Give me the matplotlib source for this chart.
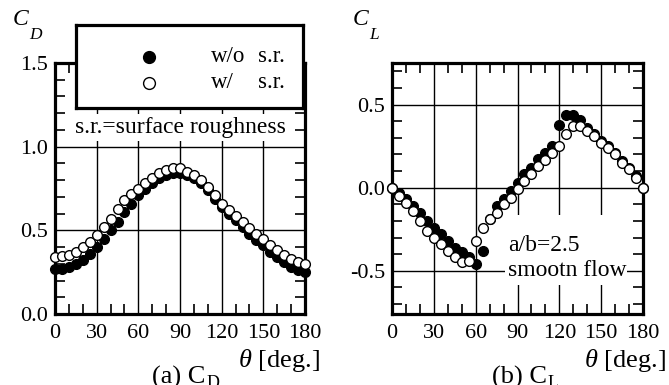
import matplotlib
matplotlib.use("Agg")
import matplotlib.pyplot as plt
from matplotlib.ticker import MultipleLocator
from matplotlib.lines import Line2D
from matplotlib.patches import Rectangle

plt.rcParams['font.family'] = ['Liberation Serif', 'DejaVu Serif']
plt.rcParams['mathtext.fontset'] = 'custom'
plt.rcParams['mathtext.rm'] = 'Liberation Serif'
plt.rcParams['mathtext.it'] = 'Liberation Serif:italic'

theta = list(range(0, 181, 5))

cd_wo = [0.27, 0.27, 0.28, 0.30, 0.32, 0.36, 0.40, 0.45, 0.50, 0.55, 0.61, 0.66, 0.71,
         0.75, 0.78, 0.81, 0.83, 0.84, 0.845, 0.83, 0.81, 0.78, 0.74, 0.69, 0.64, 0.60,
         0.56, 0.52, 0.48, 0.44, 0.41, 0.37, 0.34, 0.31, 0.28, 0.26, 0.25]
cd_w = [0.34, 0.345, 0.355, 0.37, 0.40, 0.43, 0.47, 0.52, 0.57, 0.63, 0.68, 0.72, 0.75,
        0.78, 0.81, 0.84, 0.86, 0.87, 0.87, 0.85, 0.83, 0.80, 0.76, 0.71, 0.655, 0.62,
        0.585, 0.55, 0.515, 0.48, 0.45, 0.41, 0.38, 0.35, 0.33, 0.31, 0.30]

cl_wo = [0.0, -0.03, -0.07, -0.11, -0.15, -0.20, -0.24, -0.28, -0.32, -0.36, -0.39, -0.42,
         -0.46, -0.38, -0.19, -0.11, -0.07, -0.02, 0.03, 0.08, 0.12, 0.17, 0.21, 0.25,
         0.38, 0.44, 0.435, 0.41, 0.36, 0.32, 0.28, 0.25, 0.21, 0.16, 0.12, 0.07, 0.0]
cl_w = [0.0, -0.05, -0.09, -0.14, -0.20, -0.26, -0.30, -0.34, -0.38, -0.42, -0.45, -0.44,
        -0.32, -0.24, -0.19, -0.15, -0.10, -0.06, -0.01, 0.04, 0.085, 0.13, 0.165, 0.21,
        0.25, 0.32, 0.37, 0.37, 0.34, 0.31, 0.27, 0.24, 0.20, 0.15, 0.11, 0.06, 0.0]

xticks = [0, 30, 60, 90, 120, 150, 180]
cd_yticks = [0.0, 0.5, 1.0, 1.5]
cl_yticks = [-0.5, 0.0, 0.5]

W, H = 669, 385
fig = plt.figure(figsize=(W / 100, H / 100), dpi=100)

def fx(px):
    return px / W

def fy(py):
    return 1 - py / H

ax1 = fig.add_axes([fx(55), fy(314), fx(305) - fx(55), fy(63) - fy(314)])
ax2 = fig.add_axes([fx(392), fy(314), fx(643) - fx(392), fy(63) - fy(314)])

ms = 7.0
for ax, wo, w in [(ax1, cd_wo, cd_w), (ax2, cl_wo, cl_w)]:
    ax.plot(theta, wo, 'o', ms=ms, mfc='black', mec='black', mew=1.0, ls='none',
            clip_on=False, zorder=3)
    ax.plot(theta, w, 'o', ms=ms, mfc='white', mec='black', mew=1.0, ls='none',
            clip_on=False, zorder=4)
    ax.set_xlim(0, 180)
    ax.set_xticks(xticks)
    ax.xaxis.set_minor_locator(MultipleLocator(10))
    ax.yaxis.set_minor_locator(MultipleLocator(0.1))
    ax.grid(True, which='major', color='black', lw=1.0)
    ax.tick_params(which='both', direction='in', top=True, right=True,
                   labelsize=16, color='black')
    ax.tick_params(which='major', length=0, width=1.2)
    ax.tick_params(which='minor', length=7, width=1.2)
    ax.tick_params(axis='x', pad=7)
    ax.tick_params(axis='y', pad=5)
    for s in ax.spines.values():
        s.set_linewidth(2.3)
    ax.set_axisbelow(True)

ax1.set_ylim(0, 1.5)
ax1.set_yticks(cd_yticks)
ax1.set_yticklabels([f'{v:.1f}' for v in cd_yticks])
ax2.set_ylim(-0.76, 0.75)
ax2.set_yticks(cl_yticks)
ax2.set_yticklabels([f'{v:.1f}' for v in cl_yticks])

# axis labels (top-left)
fig.text(fx(12), fy(25), r'$C$', fontsize=17, ha='left', va='baseline')
fig.text(fx(29), fy(39), r'$D$', fontsize=12.5, ha='left', va='baseline')
fig.text(fx(352), fy(25), r'$C$', fontsize=17, ha='left', va='baseline')
fig.text(fx(369), fy(39), r'$L$', fontsize=12.5, ha='left', va='baseline')

for xr in (320, 666):
    fig.text(fx(xr), fy(367), r'$\theta$ [deg.]', fontsize=19, ha='right', va='baseline')

fig.text(fx(152), fy(384), '(a) C', fontsize=19, ha='left', va='baseline')
fig.text(fx(207), fy(388), 'D', fontsize=13, ha='left', va='baseline')
fig.text(fx(492), fy(384), '(b) C', fontsize=19, ha='left', va='baseline')
fig.text(fx(548), fy(388), 'L', fontsize=13, ha='left', va='baseline')

# legend box
legax = fig.add_axes([fx(76), fy(108), fx(303) - fx(76), fy(25) - fy(108)], zorder=10)
legax.set_xticks([])
legax.set_yticks([])
for s in legax.spines.values():
    s.set_linewidth(2.3)
legax.set_xlim(0, 1)
legax.set_ylim(0, 1)
lx = (149 - 76) / (303 - 76)
for py, face, lab in [(57, 'black', 'w/o'), (83, 'white', 'w/')]:
    ly = (108 - py) / (108 - 25)
    legax.add_line(Line2D([lx], [ly], marker='o', ms=8.5, mfc=face, mec='black',
                          mew=1.0, ls='none'))
    legax.text((211 - 76) / 227, ly, lab, fontsize=16.5, ha='left', va='center')
    legax.text((258 - 76) / 227, ly, 's.r.', fontsize=16.5, ha='left', va='center')

ax1.text(90.5, 1.115, 's.r.=surface roughness', fontsize=17, ha='center', va='center',
         bbox=dict(facecolor='white', edgecolor='none', pad=2.0), zorder=5)

# white area behind the note of panel (b)
ax2.add_patch(Rectangle((0.45, 0.115), 0.486, 0.28, transform=ax2.transAxes,
                        facecolor='white', edgecolor='none', zorder=2))
ax2.text(83.5, -0.345, 'a/b=2.5', fontsize=17, ha='left', va='center', zorder=5)
ax2.text(83.5, -0.5, 'smootn flow', fontsize=17, ha='left', va='center', zorder=5)

fig.savefig('out.png', dpi=100)
